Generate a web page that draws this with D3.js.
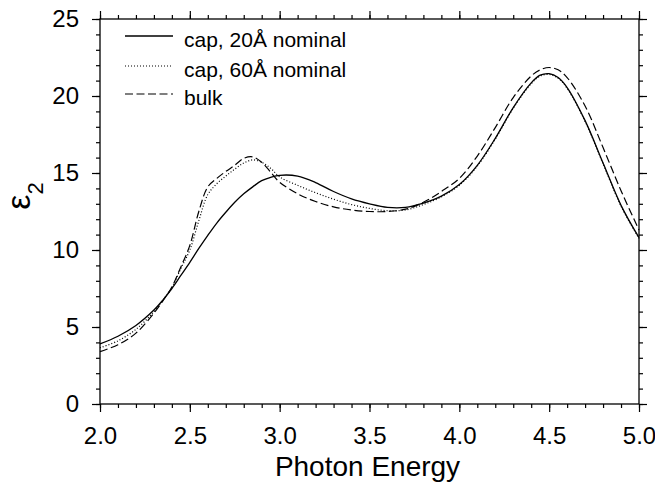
<!DOCTYPE html>
<html>
<head>
<meta charset="utf-8">
<title>Photon Energy vs eps2</title>
<script src="https://d3js.org/d3.v7.min.js"></script>
<style>
body { margin: 0; background: #fff; }
text { font-family: "Liberation Sans", Arial, sans-serif; fill: #000; }
</style>
</head>
<body>
<svg id="chart" width="655" height="500"></svg>
<script>
// photon energy sample points
const energy = [2.0, 2.1, 2.2, 2.3, 2.35, 2.4, 2.45, 2.5, 2.55, 2.6, 2.65, 2.7, 2.75, 2.8, 2.85, 2.9, 2.95, 3.0,
                3.1, 3.2, 3.3, 3.4, 3.5, 3.6, 3.7, 3.8, 3.9, 4.0, 4.1, 4.2, 4.3, 4.4, 4.45, 4.5, 4.55, 4.6, 4.7, 4.8, 4.9, 5.0];

const cap20 = [3.9, 4.4, 5.1, 6.1, 6.75, 7.5, 8.35, 9.2, 10.1, 10.95, 11.75, 12.45, 13.1, 13.65, 14.1, 14.5, 14.72, 14.85,
               14.8, 14.38, 13.8, 13.32, 13.0, 12.77, 12.77, 13.05, 13.5, 14.25, 15.5, 17.25, 19.25, 20.85, 21.35, 21.45, 21.2, 20.55, 18.4, 15.65, 12.9, 10.8];

const cap60 = [3.65, 4.1, 4.85, 6.0, 6.75, 7.55, 8.8, 10.0, 11.9, 13.6, 14.3, 14.8, 15.25, 15.65, 15.85, 15.7, 15.3, 14.75,
               14.2, 13.72, 13.3, 12.95, 12.7, 12.55, 12.6, 12.95, 13.45, 14.2, 15.45, 17.2, 19.2, 20.8, 21.3, 21.4, 21.15, 20.5, 18.35, 15.6, 12.85, 10.75];

const bulk = [3.4, 3.85, 4.6, 5.9, 6.7, 7.6, 8.9, 10.3, 12.5, 14.1, 14.65, 15.1, 15.5, 15.95, 16.05, 15.7, 15.05, 14.4,
              13.65, 13.15, 12.8, 12.6, 12.5, 12.5, 12.65, 13.1, 13.8, 14.65, 16.1, 17.95, 19.9, 21.3, 21.7, 21.85, 21.7, 21.2, 19.35, 16.65, 13.85, 11.3];

const seriesNames = ["cap, 20\u00C5 nominal", "cap, 60\u00C5 nominal", "bulk"];
const xTicks = [2.0, 2.5, 3.0, 3.5, 4.0, 4.5, 5.0];
const yTicks = [0, 5, 10, 15, 20, 25];

const svg = d3.select("#chart");
const LEFT = 100, RIGHT = 639, TOP = 19, BOTTOM = 404;

const x = d3.scaleLinear().domain([2, 5]).range([LEFT, RIGHT]);
const y = d3.scaleLinear().domain([0, 25]).range([BOTTOM, TOP]);

const minorX = d3.range(20, 51).map(d => d / 10);
const minorY = d3.range(0, 26);

// minor ticks on all four sides
svg.append("g").attr("transform", `translate(0,${BOTTOM})`)
   .call(d3.axisBottom(x).tickValues(minorX).tickSize(4).tickFormat(""));
svg.append("g").attr("transform", `translate(0,${TOP})`)
   .call(d3.axisTop(x).tickValues(minorX).tickSize(4).tickFormat(""));
svg.append("g").attr("transform", `translate(${LEFT},0)`)
   .call(d3.axisLeft(y).tickValues(minorY).tickSize(4).tickFormat(""));
svg.append("g").attr("transform", `translate(${RIGHT},0)`)
   .call(d3.axisRight(y).tickValues(minorY).tickSize(4).tickFormat(""));

// major ticks
svg.append("g").attr("class", "lab").attr("transform", `translate(0,${BOTTOM})`)
   .call(d3.axisBottom(x).tickValues(xTicks).tickSize(8).tickPadding(15).tickFormat(d3.format(".1f")));
svg.append("g").attr("transform", `translate(0,${TOP})`)
   .call(d3.axisTop(x).tickValues(xTicks).tickSize(8).tickFormat(""));
svg.append("g").attr("class", "lab").attr("transform", `translate(${LEFT},0)`)
   .call(d3.axisLeft(y).tickValues(yTicks).tickSize(8).tickPadding(13).tickFormat(d3.format("d")));
svg.append("g").attr("transform", `translate(${RIGHT},0)`)
   .call(d3.axisRight(y).tickValues(yTicks).tickSize(8).tickFormat(""));

svg.selectAll(".domain").remove();
svg.selectAll(".tick line").attr("stroke", "#000").attr("stroke-width", 1.2);
svg.selectAll(".lab text").style("font-size", "24px").attr("fill", "#000");

svg.append("rect")
   .attr("x", LEFT).attr("y", TOP)
   .attr("width", RIGHT - LEFT).attr("height", BOTTOM - TOP)
   .attr("fill", "none").attr("stroke", "#000").attr("stroke-width", 1.3);

// curves
const styles = [
    { values: cap20, dash: null, width: 1.3 },
    { values: cap60, dash: "1,2", width: 1.2 },
    { values: bulk, dash: "8,3.5", width: 1.2 }
];

const line = d3.line()
    .x(d => x(d[0]))
    .y(d => y(d[1]))
    .curve(d3.curveCatmullRom.alpha(0.5));

styles.forEach(s => {
    svg.append("path")
       .datum(energy.map((e, i) => [e, s.values[i]]))
       .attr("d", line)
       .attr("fill", "none")
       .attr("stroke", "#000")
       .attr("stroke-width", s.width)
       .attr("stroke-dasharray", s.dash);
});

// legend
const legend = svg.append("g");
const legendLineY = [36, 66, 94];
seriesNames.forEach((name, i) => {
    legend.append("line")
          .attr("x1", 125).attr("x2", 173)
          .attr("y1", legendLineY[i]).attr("y2", legendLineY[i])
          .attr("stroke", "#000")
          .attr("stroke-width", styles[i].width)
          .attr("stroke-dasharray", styles[i].dash);
    legend.append("text")
          .attr("x", 184).attr("y", legendLineY[i] + 11)
          .style("font-size", "21px")
          .text(name);
});

// axis titles
svg.append("text")
   .attr("x", (LEFT + RIGHT) / 2 - 2).attr("y", 476)
   .attr("text-anchor", "middle")
   .style("font-size", "28px")
   .text("Photon Energy");

svg.append("text")
   .attr("transform", "translate(30,196) rotate(-90)")
   .attr("text-anchor", "middle")
   .style("font-size", "34px")
   .html("\u03B5<tspan baseline-shift=\"sub\" font-size=\"22px\">2</tspan>");
</script>
</body>
</html>
